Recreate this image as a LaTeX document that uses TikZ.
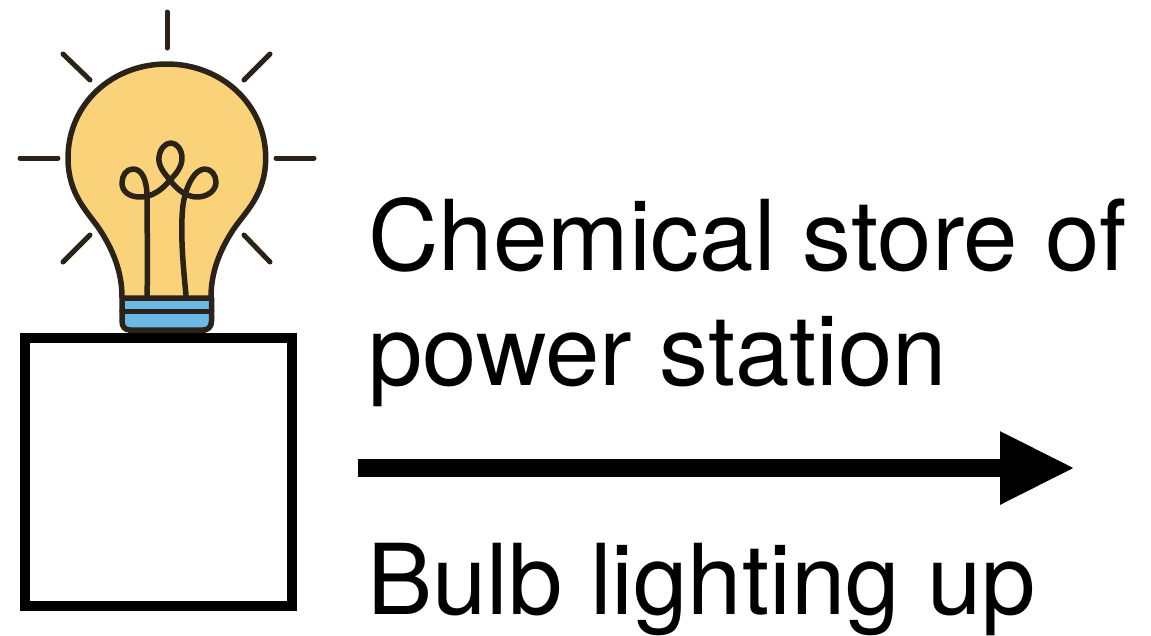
\documentclass[tikz,border=0pt]{standalone}
\usepackage{fontspec}
\setmainfont{TeX Gyre Heros}
\usetikzlibrary{arrows.meta,positioning}

\definecolor{bulbink}{HTML}{2B2318}
\definecolor{bulbglow}{HTML}{FAD27A}
\definecolor{bulbblue}{HTML}{6CB8E6}

\begin{document}
\begin{tikzpicture}
  [x=1pt,y=-1pt,
   ray/.style={bulbink,line width=5pt,line cap=round},
   wire/.style={bulbink,line width=5.5pt,line cap=round,line join=round},
   label/.style={font=\fontsize{97.8}{115}\selectfont,inner sep=0pt,align=left},
   cell/.style={draw,line width=10pt,minimum width=267pt,minimum height=268pt,inner sep=0pt},
   flow/.style={line width=18pt,-{Triangle[length=75pt,width=68pt]}}]

  \useasboundingbox (0,0) rectangle (1151,635);

  % rays
  \draw[ray] (167,12) -- (167,48);
  \draw[ray] (63,54) -- (90,80);
  \draw[ray] (270,54) -- (244,80);
  \draw[ray] (20,158) -- (58,158);
  \draw[ray] (276,158) -- (314,158);
  \draw[ray] (63,262) -- (90,235);
  \draw[ray] (270,262) -- (244,235);

  % glass
  \draw[wire,fill=bulbglow] (122,297)
    .. controls (122,272) and (113,250) .. (100,230)
    .. controls (88,212) and (68,195) .. (68,158)
    .. controls (68,104) and (112,64) .. (166.7,64)
    .. controls (221,64) and (265.7,104) .. (265.7,158)
    .. controls (265.7,195) and (245,212) .. (233,230)
    .. controls (220,250) and (211,272) .. (211,297);

  % filament
  \draw[wire,fill=none] (147,295)
    .. controls (148,265) and (147,230) .. (147,197)
    .. controls (147,180) and (142,169) .. (133,169)
    .. controls (126,169) and (122,176) .. (122,183)
    .. controls (122,192) and (130,197) .. (140,197)
    .. controls (152,197) and (162,190) .. (170,180)
    .. controls (163,172) and (158,165) .. (159,157)
    .. controls (160,149) and (165,143) .. (171,143)
    .. controls (177,143) and (182,150) .. (182,158)
    .. controls (182,167) and (176,174) .. (170,180)
    .. controls (177,190) and (187,197) .. (197,197)
    .. controls (207,197) and (216,191) .. (216,182)
    .. controls (216,175) and (211,169) .. (205,169)
    .. controls (195,169) and (186,185) .. (183,205)
    .. controls (180,230) and (183,265) .. (186,295);

  % base
  \fill[bulbblue] (132,331) rectangle (202,336);
  \draw[bulbink,line width=4.5pt] (130,331) -- (130,336) (204,331) -- (204,336);
  \draw[wire,fill=bulbblue] (122,298) -- (211.5,298) -- (211.5,321)
    .. controls (211.5,327) and (208,330) .. (203,330) -- (130,330)
    .. controls (125,330) and (122,327) .. (122,321) -- cycle;
  \draw[wire] (122,311.5) -- (211.5,311.5);

  \node[cell]  (cell)  at (158.5,472) {};
  \node[label,anchor=base west] (store) at (368,385) {Chemical store of\\power station};
  \node[label,anchor=base west] (bulb)  at (367,614) {Bulb lighting up};

  \coordinate (flow start) at (358,468);
  \coordinate (flow end)   at (1075,468);
  \draw[flow] (flow start) -- (flow end);
\end{tikzpicture}
\end{document}
